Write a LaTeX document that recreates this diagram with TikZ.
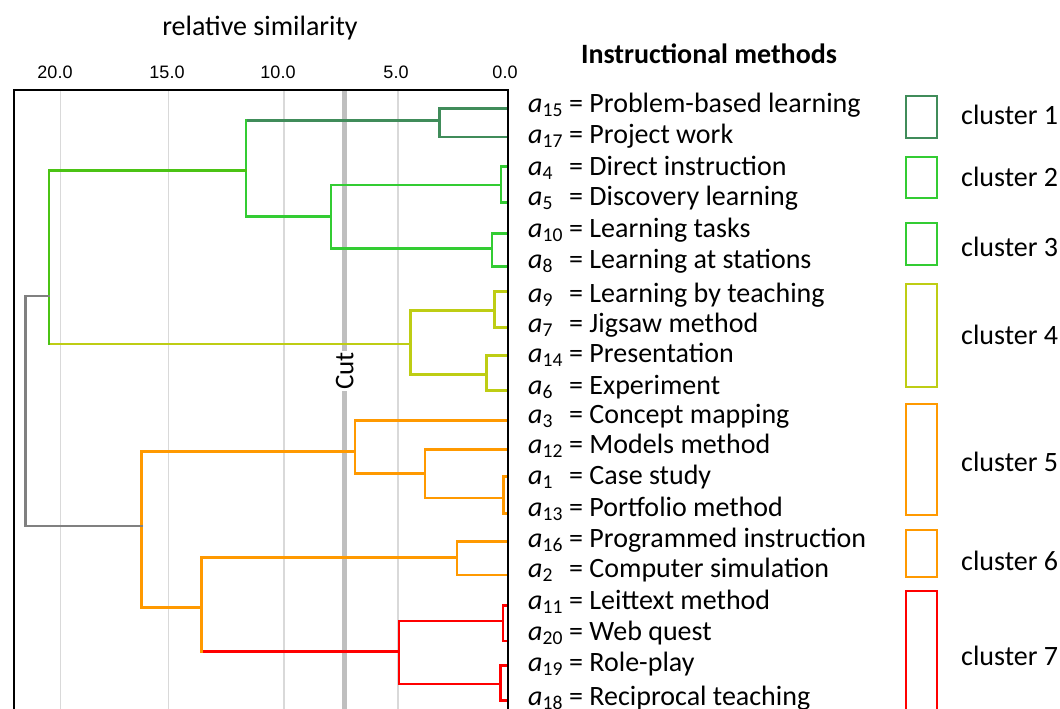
\documentclass[tikz,border=0pt]{standalone}
\usepackage{fontspec}
\setmainfont{Carlito}
\newfontfamily\ticksfont{Liberation Sans}

\definecolor{clustA}{RGB}{64,140,90}
\definecolor{clustB}{RGB}{51,204,51}
\definecolor{clustC}{RGB}{75,195,20}
\definecolor{clustD}{RGB}{190,205,20}
\definecolor{clustE}{RGB}{255,153,0}
\definecolor{clustF}{RGB}{255,0,0}
\definecolor{rootgray}{RGB}{128,128,128}
\definecolor{cutgray}{RGB}{191,191,191}
\definecolor{gridgray}{RGB}{217,217,217}

\newcommand{\meth}[2]{\makebox[41pt][l]{\textit{a}\textsubscript{#1}}= #2}

% #1 merge, #2/#3 colour of upper/lower arm, #4/#5 upper/lower child, #6 colour of bar
\newcommand{\dgjoin}[6]{
	\draw[dg, #2] (#4) -- (#4 -| #1);
	\draw[dg, #3] (#5) -- (#5 -| #1);
	\draw[dg, #6] (#4 -| #1) -- (#5 -| #1);
}

\begin{document}
\begin{tikzpicture}[x=1pt, y=-1pt,
	dg/.style={line width=2.8pt, line cap=rect},
	lab/.style={anchor=base west, inner sep=0pt, font=\fontsize{28}{30}\selectfont},
	tick/.style={anchor=base, inner sep=0pt, font=\ticksfont\fontsize{18}{20}\selectfont},
	legbox/.style={line width=2.5pt}]

	\useasboundingbox (0,0) rectangle (1060,709);

	% grid and cut
	\foreach \x in {60.2, 168.4, 284, 397.9}
		\draw[gridgray, line width=1.2pt] (\x,90) -- (\x,709);
	\draw[cutgray, line width=5pt] (344.8,90) -- (344.8,709);

	\foreach \v/\x [count=\k] in {20.0/55, 15.0/167, 10.0/278, 5.0/396, 0.0/505}
		\node[tick] (tick\k) at (\x,78.4) {\v};

	\node[anchor=base, inner sep=0pt, font=\fontsize{28}{30}\selectfont] (simtitle) at (260,35.5) {relative similarity};
	\node[anchor=base, inner sep=0pt, font=\fontsize{28}{30}\selectfont\bfseries] (methtitle) at (709,63.6) {Instructional methods};

	% leaves
	\foreach \n/\y in {15/108.5, 17/137, 4/166.7, 5/202.8, 10/233.3, 8/266.2, 9/291.2, 7/327.4, 14/355.1, 6/390.6,
		3/420.3, 12/449.7, 1/476.2, 13/513.4, 16/541.5, 2/575, 11/605.4, 20/640.9, 19/665.5, 18/700.7}
		\coordinate (l\n) at (508,\y);

	% merges
	\coordinate (m1) at (439.5,120.5);
	\coordinate (m2) at (501,185);
	\coordinate (m3) at (491.9,248.6);
	\coordinate (m23) at (331,216.4);
	\coordinate (m123) at (246,170.7);
	\coordinate (m4a) at (494.3,310.5);
	\coordinate (m4b) at (486.8,374.4);
	\coordinate (m4) at (410.8,344);
	\coordinate (mtop) at (49,296);
	\coordinate (m5b) at (503.7,497.9);
	\coordinate (m5a) at (425,473.5);
	\coordinate (m5) at (355,451.4);
	\coordinate (m6) at (457,557.7);
	\coordinate (m7a) at (503,621);
	\coordinate (m7b) at (500.3,684);
	\coordinate (m7) at (398.9,651.7);
	\coordinate (m67) at (201.2,607.4);
	\coordinate (m567) at (141.3,526);
	\coordinate (root) at (25.4,410);

	\dgjoin{m1}{clustA}{clustA}{l15}{l17}{clustA}
	\dgjoin{m2}{clustB}{clustB}{l4}{l5}{clustB}
	\dgjoin{m3}{clustB}{clustB}{l10}{l8}{clustB}
	\dgjoin{m23}{clustB}{clustB}{m2}{m3}{clustB}
	\dgjoin{m123}{clustA}{clustB}{m1}{m23}{clustB}
	\dgjoin{m4a}{clustD}{clustD}{l9}{l7}{clustD}
	\dgjoin{m4b}{clustD}{clustD}{l14}{l6}{clustD}
	\dgjoin{m4}{clustD}{clustD}{m4a}{m4b}{clustD}
	\dgjoin{mtop}{clustC}{clustD}{m123}{m4}{clustC}
	\dgjoin{m5b}{clustE}{clustE}{l1}{l13}{clustE}
	\dgjoin{m5a}{clustE}{clustE}{l12}{m5b}{clustE}
	\dgjoin{m5}{clustE}{clustE}{l3}{m5a}{clustE}
	\dgjoin{m6}{clustE}{clustE}{l16}{l2}{clustE}
	\dgjoin{m7a}{clustF}{clustF}{l11}{l20}{clustF}
	\dgjoin{m7b}{clustF}{clustF}{l19}{l18}{clustF}
	\dgjoin{m7}{clustF}{clustF}{m7a}{m7b}{clustF}
	\dgjoin{m67}{clustE}{clustF}{m6}{m7}{clustE}
	\dgjoin{m567}{clustE}{clustE}{m5}{m67}{clustE}
	\dgjoin{root}{rootgray}{rootgray}{mtop}{m567}{rootgray}

	\node[rotate=90, fill=white, inner sep=1pt, font=\fontsize{27}{28}\selectfont] (cut) at (344.8,371) {Cut};

	% frame
	\draw[line width=2.5pt] (14,709) -- (14,90) -- (508,90) -- (508,709);

	% methods
	\foreach \n/\txt/\base in {15/Problem-based learning/112, 17/Project work/143, 4/Direct instruction/175,
		5/Discovery learning/205, 10/Learning tasks/237, 8/Learning at stations/268, 9/Learning by teaching/302,
		7/Jigsaw method/332, 14/Presentation/362, 6/Experiment/394, 3/Concept mapping/423, 12/Models method/453,
		1/Case study/484, 13/Portfolio method/516, 16/Programmed instruction/547, 2/Computer simulation/577,
		11/Leittext method/609, 20/Web quest/640, 19/Role-play/671, 18/Reciprocal teaching/705}
		\node[lab] (a\n) at (528,\base) {\meth{\n}{\txt}};

	% legend
	\foreach \i/\col/\t/\b/\base in {1/clustA/96/138/124, 2/clustB/157/198/186, 3/clustB/223/265/256,
		4/clustD/284/387/344, 5/clustE/404/515/471, 6/clustE/530/577/570, 7/clustF/591/710/665}{
		\draw[legbox, \col] (906,\t) rectangle (937,\b);
		\node[lab] (cl\i) at (961,\base) {cluster \i};
	}

\end{tikzpicture}
\end{document}
